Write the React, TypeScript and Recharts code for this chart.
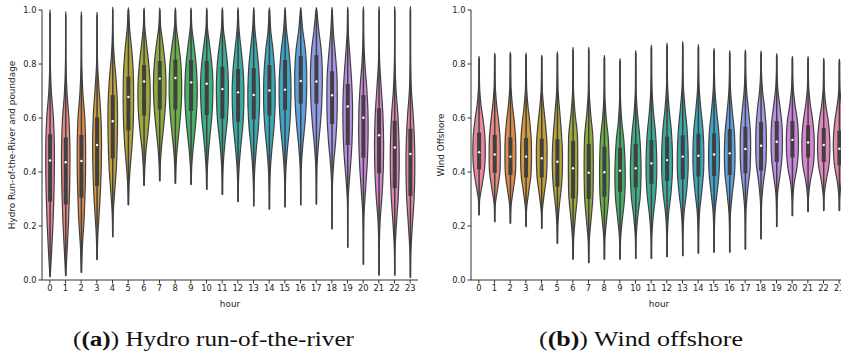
import React from 'react';
import { ComposedChart, Bar, XAxis, YAxis, Label } from 'recharts';

const hours = ['0','1','2','3','4','5','6','7','8','9','10','11','12','13','14','15','16','17','18','19','20','21','22','23'];

const palette = ['#e8869b','#e68a84','#e08c4a','#d49a3c','#c4a03a','#b2a53c','#a2a93c','#8eab3f','#6cb146','#47b06a','#3eae85','#3cad95','#3aaba3','#3ba9ae','#3ca8ba','#3fa5c8','#5ba2df','#929be8','#a896e6','#bb8ee3','#cd87dc','#d985cc','#e087b9','#e48aa9'];

// Hydro run-of-the-river
const hydroLo = [0.012,0.016,0.028,0.075,0.16,0.278,0.35,0.367,0.358,0.354,0.336,0.317,0.29,0.274,0.262,0.27,0.278,0.281,0.189,0.121,0.058,0.018,0.018,0.009];
const hydroHi = [0.988,0.981,0.981,0.981,1,1,1,1,1,1,1,1,1,1,1,1,1,1,1,1,1,1,1,1];
const hydroQ1 = [0.29,0.28,0.305,0.348,0.45,0.554,0.609,0.632,0.632,0.626,0.611,0.598,0.586,0.595,0.609,0.63,0.653,0.653,0.578,0.5,0.453,0.395,0.34,0.311];
const hydroMed = [0.443,0.436,0.441,0.5,0.588,0.678,0.735,0.746,0.748,0.732,0.727,0.707,0.695,0.685,0.702,0.705,0.737,0.735,0.684,0.643,0.601,0.536,0.491,0.467];
const hydroQ3 = [0.54,0.528,0.537,0.602,0.685,0.753,0.796,0.811,0.817,0.815,0.811,0.79,0.781,0.785,0.796,0.815,0.83,0.833,0.773,0.726,0.685,0.636,0.59,0.56];
// violin widths (fraction of full width) at 11 evenly spaced levels from lo to hi
const hydroDens = [
  [.02,.25,.45,.58,.66,.66,.52,.2,.05,.02,.02],
  [.02,.22,.42,.56,.64,.64,.5,.2,.05,.02,.02],
  [.02,.15,.4,.55,.64,.64,.52,.22,.06,.02,.02],
  [.02,.12,.35,.55,.66,.68,.56,.3,.08,.03,.02],
  [.02,.08,.3,.55,.68,.74,.7,.5,.2,.05,.02],
  [.02,.1,.3,.55,.72,.8,.8,.72,.5,.2,.04],
  [.03,.12,.3,.6,.85,.95,.9,.7,.4,.12,.03],
  [.03,.1,.28,.55,.8,.95,.95,.8,.5,.15,.03],
  [.03,.1,.28,.55,.8,.95,.95,.82,.5,.15,.03],
  [.03,.1,.3,.58,.82,.95,.92,.75,.45,.12,.03],
  [.03,.08,.25,.5,.78,.92,.95,.78,.45,.12,.03],
  [.03,.06,.2,.45,.75,.9,.92,.8,.5,.15,.03],
  [.02,.06,.2,.45,.75,.88,.9,.75,.45,.15,.03],
  [.02,.05,.18,.42,.72,.88,.9,.78,.5,.18,.03],
  [.02,.05,.15,.38,.68,.86,.9,.8,.55,.2,.04],
  [.02,.05,.15,.38,.68,.86,.92,.82,.58,.22,.04],
  [.02,.04,.1,.3,.6,.82,.92,.9,.7,.3,.05],
  [.02,.04,.1,.3,.58,.8,.9,.9,.72,.35,.06],
  [.02,.03,.06,.25,.55,.75,.8,.75,.5,.2,.04],
  [.02,.03,.06,.3,.58,.72,.74,.6,.35,.1,.03],
  [.02,.03,.1,.35,.6,.72,.7,.5,.2,.05,.02],
  [.02,.04,.15,.45,.65,.7,.6,.35,.1,.03,.02],
  [.02,.06,.28,.55,.68,.66,.5,.2,.05,.02,.02],
  [.02,.08,.32,.58,.68,.64,.45,.15,.04,.02,.02],
];

// Wind offshore
const windLo = [0.241,0.216,0.21,0.198,0.191,0.136,0.077,0.064,0.077,0.077,0.08,0.08,0.086,0.09,0.099,0.103,0.103,0.114,0.152,0.198,0.238,0.253,0.257,0.257];
const windHi = [0.821,0.833,0.836,0.833,0.825,0.836,0.852,0.852,0.823,0.811,0.84,0.86,0.868,0.873,0.862,0.849,0.84,0.843,0.84,0.831,0.821,0.82,0.814,0.811];
const windQ1 = [0.41,0.397,0.389,0.38,0.38,0.346,0.302,0.3,0.309,0.327,0.343,0.356,0.367,0.373,0.383,0.385,0.389,0.395,0.405,0.437,0.454,0.454,0.437,0.425];
const windMed = [0.473,0.465,0.457,0.457,0.451,0.438,0.414,0.397,0.399,0.405,0.414,0.432,0.444,0.457,0.46,0.465,0.469,0.485,0.497,0.512,0.519,0.509,0.5,0.486];
const windQ3 = [0.546,0.537,0.528,0.526,0.523,0.521,0.515,0.504,0.494,0.49,0.504,0.519,0.531,0.536,0.541,0.543,0.559,0.568,0.585,0.589,0.589,0.573,0.563,0.553];
const windDens = [
  [.03,.1,.5,.85,.96,.9,.65,.3,.1,.05,.03],
  [.03,.08,.45,.8,.86,.82,.6,.3,.1,.05,.03],
  [.03,.1,.45,.78,.84,.8,.6,.3,.1,.05,.03],
  [.03,.08,.4,.75,.84,.8,.6,.3,.1,.05,.03],
  [.03,.08,.38,.72,.82,.8,.6,.32,.1,.05,.03],
  [.03,.08,.3,.62,.78,.76,.58,.35,.12,.05,.03],
  [.03,.1,.35,.65,.72,.72,.65,.3,.08,.04,.03],
  [.03,.08,.35,.62,.7,.7,.62,.3,.08,.04,.03],
  [.03,.08,.35,.65,.74,.72,.6,.28,.08,.04,.03],
  [.03,.08,.35,.68,.8,.75,.58,.25,.08,.04,.03],
  [.03,.06,.3,.68,.82,.78,.6,.28,.08,.04,.03],
  [.03,.06,.28,.65,.82,.8,.62,.3,.1,.04,.03],
  [.03,.05,.22,.6,.82,.82,.65,.32,.1,.04,.03],
  [.03,.05,.2,.58,.82,.82,.66,.35,.1,.04,.03],
  [.03,.05,.18,.52,.8,.84,.7,.38,.12,.04,.03],
  [.03,.05,.15,.48,.78,.84,.72,.4,.14,.05,.03],
  [.03,.04,.12,.42,.75,.82,.72,.42,.15,.05,.03],
  [.03,.04,.1,.35,.7,.8,.76,.5,.2,.06,.03],
  [.03,.04,.1,.35,.72,.82,.78,.55,.22,.06,.03],
  [.03,.05,.15,.5,.8,.88,.8,.5,.18,.06,.03],
  [.03,.06,.25,.68,.9,.92,.78,.42,.15,.05,.03],
  [.03,.08,.35,.8,.95,.92,.7,.35,.12,.05,.03],
  [.03,.08,.38,.8,.95,.9,.68,.32,.1,.05,.03],
  [.03,.08,.35,.75,.92,.9,.7,.35,.1,.05,.03],
];

const yTicks = [0, 0.2, 0.4, 0.6, 0.8, 1.0];

const INK = '#404040';
const AXIS = '#333333';
const TEXT = '#222222';
const FONT = 'DejaVu Sans';
const FS = 8.3;
const TITLE_FS = 8.9;

type Row = { hour: string; range: [number, number]; q1: number; med: number; q3: number; dens: number[]; color: string };

function buildRows(lo: number[], hi: number[], q1: number[], med: number[], q3: number[], dens: number[][]): Row[] {
  return hours.map((h, i) => ({
    hour: h,
    range: [lo[i], hi[i]] as [number, number],
    q1: q1[i],
    med: med[i],
    q3: q3[i],
    dens: dens[i],
    color: palette[i],
  }));
}

const hydroRows = buildRows(hydroLo, hydroHi, hydroQ1, hydroMed, hydroQ3, hydroDens);
const windRows = buildRows(windLo, windHi, windQ1, windMed, windQ3, windDens);

function smoothPath(pts: number[][]): string {
  const n = pts.length;
  let d = `M${pts[0][0]},${pts[0][1]}`;
  for (let i = 0; i < n - 1; i++) {
    const p0 = pts[Math.max(0, i - 1)];
    const p1 = pts[i];
    const p2 = pts[i + 1];
    const p3 = pts[Math.min(n - 1, i + 2)];
    const c1x = p1[0] + (p2[0] - p0[0]) / 6;
    const c1y = p1[1] + (p2[1] - p0[1]) / 6;
    const c2x = p2[0] - (p3[0] - p1[0]) / 6;
    const c2y = p2[1] - (p3[1] - p1[1]) / 6;
    d += ` C${c1x},${c1y} ${c2x},${c2y} ${p2[0]},${p2[1]}`;
  }
  return d + ' Z';
}

const Violin = (props: any) => {
  const { x, y, width, height, payload } = props;
  if (!payload || width == null) return null;
  const [lo, hi] = payload.range;
  let top = y;
  let bottom = y + height;
  if (height < 0) { top = y + height; bottom = y; }
  const py = (v: number) => bottom - ((bottom - top) * (v - lo)) / (hi - lo);
  const cx = x + width / 2;
  const half = width / 2;
  const n = payload.dens.length;
  const right = payload.dens.map((w: number, i: number) => [cx + w * half, py(lo + ((hi - lo) * i) / (n - 1))]);
  const left = payload.dens.map((w: number, i: number) => [cx - w * half, py(lo + ((hi - lo) * i) / (n - 1))]).reverse();
  const d = smoothPath([...right, ...left]);
  return (
    <g>
      <path d={d} fill={payload.color} stroke={INK} strokeWidth={1.2} strokeLinejoin="round" />
      <line x1={cx} x2={cx} y1={py(lo)} y2={py(hi)} stroke={INK} strokeWidth={1.5} />
      <rect x={cx - 2} width={4} y={py(payload.q3)} height={py(payload.q1) - py(payload.q3)} fill={INK} />
      <circle cx={cx} cy={py(payload.med)} r={1.2} fill="#ffffff" />
    </g>
  );
};

type PanelProps = { rows: Row[]; yTitle: string; width: number; yAxisWidth: number; titleX: number; marginRight: number };

function Panel({ rows, yTitle, width, yAxisWidth, titleX, marginRight }: PanelProps) {
  return (
    <ComposedChart
      width={width}
      height={312}
      data={rows}
      margin={{ top: 10, right: marginRight, bottom: 0, left: 0 }}
      barCategoryGap="10%"
    >
      <XAxis
        dataKey="hour"
        interval={0}
        height={32}
        tickSize={3.5}
        tickLine={{ stroke: AXIS }}
        axisLine={{ stroke: AXIS }}
        tick={{ fontSize: FS, fill: TEXT, fontFamily: FONT }}
        label={
          <Label
            content={(p: any) => {
              const vb = p.viewBox || { x: 0, y: 0, width: 0 };
              return (
                <text x={vb.x + vb.width / 2} y={vb.y + 26.5} textAnchor="middle" fontSize={TITLE_FS} fill={TEXT} fontFamily={FONT}>
                  hour
                </text>
              );
            }}
          />
        }
      />
      <XAxis xAxisId="top" dataKey="hour" orientation="top" height={0} tick={false} tickLine={false} axisLine={{ stroke: AXIS }} />
      <YAxis
        domain={[0, 1]}
        ticks={yTicks}
        width={yAxisWidth}
        tickSize={3.5}
        tickFormatter={(v: number) => v.toFixed(1)}
        tickLine={{ stroke: AXIS }}
        axisLine={{ stroke: AXIS }}
        tick={{ fontSize: FS, fill: TEXT, fontFamily: FONT }}
        label={
          <Label
            content={(p: any) => {
              const vb = p.viewBox || { x: 0, y: 0, height: 0 };
              const cy = vb.y + vb.height / 2;
              const tx = vb.x + titleX;
              return (
                <text
                  x={tx}
                  y={cy}
                  transform={`rotate(-90, ${tx}, ${cy})`}
                  textAnchor="middle"
                  dominantBaseline="central"
                  fontSize={TITLE_FS}
                  fill={TEXT}
                  fontFamily={FONT}
                >
                  {yTitle}
                </text>
              );
            }}
          />
        }
      />
      <YAxis yAxisId="right" orientation="right" domain={[0, 1]} width={0} tick={false} tickLine={false} axisLine={{ stroke: AXIS }} />
      <Bar dataKey="range" shape={Violin} isAnimationActive={false} />
    </ComposedChart>
  );
}

export default function App() {
  return (
    <div style={{ position: 'absolute', left: 0, top: 0, width: 841, height: 354, overflow: 'hidden', background: '#ffffff' }}>
      <div style={{ position: 'absolute', left: 0, top: 0 }}>
        <Panel rows={hydroRows} yTitle="Hydro Run-of-the-River and poundage" width={425} yAxisWidth={42} titleX={12} marginRight={7} />
      </div>
      <div style={{ position: 'absolute', left: 425, top: 0 }}>
        <Panel rows={windRows} yTitle="Wind Offshore" width={427} yAxisWidth={46} titleX={16} marginRight={5} />
      </div>
      <svg width={841} height={40} style={{ position: 'absolute', left: 0, top: 314 }}>
        <text x={73} y={32} fontSize={20} fontFamily="Liberation Serif" fill="#111" textLength={281} lengthAdjust="spacingAndGlyphs">
          <tspan>(</tspan>
          <tspan fontWeight="bold">(a)</tspan>
          <tspan>) Hydro run-of-the-river</tspan>
        </text>
        <text x={539} y={32} fontSize={20} fontFamily="Liberation Serif" fill="#111" textLength={204} lengthAdjust="spacingAndGlyphs">
          <tspan>(</tspan>
          <tspan fontWeight="bold">(b)</tspan>
          <tspan>) Wind offshore</tspan>
        </text>
      </svg>
    </div>
  );
}
